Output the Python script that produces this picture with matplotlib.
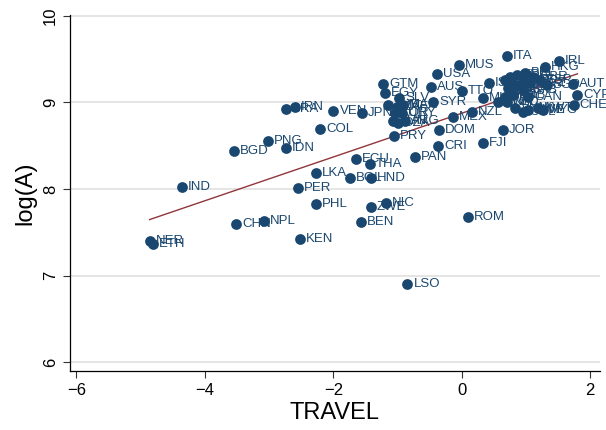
import matplotlib.pyplot as plt
import numpy as np

plt.rcParams['font.family'] = ['Liberation Sans', 'DejaVu Sans']

# country codes, TRAVEL and log(A)
codes = ['ITA', 'IRL', 'HKG', 'MUS', 'USA', 'BEL', 'AUS', 'TTO', 'GTM', 'EGY',
         'SLV', 'SYR', 'AUT', 'CYP', 'CHE', 'MEX', 'NZL', 'DOM', 'JOR', 'CRI',
         'FJI', 'PAN', 'PRY', 'ECU', 'THA', 'BOL', 'HND', 'LKA', 'PER', 'PHL',
         'ZWE', 'NIC', 'BEN', 'ROM', 'KEN', 'LSO', 'NPL', 'CHN', 'NER', 'ETH',
         'IND', 'BGD', 'PNG', 'IDN', 'BRA', 'IRN', 'VEN', 'JPN', 'COL',
         'TUR', 'ZAF', 'MAR', 'KOR', 'URY', 'TUN', 'DZA', 'ARG',
         'ISR', 'GRC', 'ISL', 'NOR', 'DNK', 'PRT', 'MLT', 'BWA', 'FIN', 'NLD',
         'FRA', 'GBR', 'DEU', 'ESP', 'SGP', 'LUX', 'SWZ', 'CAN', 'BRB', 'GAB',
         'SWE', 'VNM', 'MYS', 'CHL', 'KWT']
travel = [0.70, 1.51, 1.29, -0.05, -0.39, 0.98, -0.48, 0.00, -1.23, -1.20,
          -0.98, -0.45, 1.73, 1.80, 1.74, -0.14, 0.16, -0.36, 0.64, -0.37,
          0.33, -0.73, -1.06, -1.65, -1.43, -1.74, -1.42, -2.27, -2.55, -2.27,
          -1.42, -1.18, -1.57, 0.09, -2.52, -0.85, -3.08, -3.52, -4.86, -4.81,
          -4.36, -3.55, -3.02, -2.74, -2.74, -2.60, -2.00, -1.56, -2.21,
          -1.15, -1.01, -0.92, -1.04, -0.93, -1.07, -1.00, -0.89,
          0.42, 0.67, 0.75, 0.82, 0.72, 0.67, 0.33, 0.56, 0.75, 0.70,
          0.86, 1.11, 0.79, 1.21, 1.32, 0.95, 1.06, 1.03, 0.79, 0.95,
          1.03, 0.82, 1.26, 0.95, 1.18]
loga = [9.54, 9.48, 9.41, 9.43, 9.33, 9.34, 9.18, 9.13, 9.21, 9.11,
        9.05, 9.00, 9.21, 9.09, 8.97, 8.83, 8.89, 8.68, 8.68, 8.50,
        8.53, 8.37, 8.61, 8.35, 8.29, 8.13, 8.13, 8.18, 8.01, 7.83,
        7.79, 7.84, 7.62, 7.68, 7.42, 6.90, 7.63, 7.60, 7.40, 7.36,
        8.02, 8.44, 8.55, 8.47, 8.92, 8.95, 8.90, 8.88, 8.69,
        8.97, 8.95, 8.97, 8.88, 8.88, 8.78, 8.76, 8.78,
        9.23, 9.26, 9.29, 9.20, 9.17, 9.06, 9.05, 9.01, 9.09, 9.01,
        9.32, 9.29, 9.20, 9.26, 9.20, 9.24, 9.23, 9.06, 9.09, 9.14,
        8.91, 8.94, 8.91, 8.89, 8.94]

navy = '#1a476f'
fig = plt.figure(figsize=(6.06, 4.30), dpi=100)
ax = fig.add_axes([0.1155, 0.137, 0.8745, 0.828])

ax.scatter(travel, loga, s=60, color=navy, zorder=3, linewidths=0)
for c, x, y in zip(codes, travel, loga):
    ax.annotate(c, (x, y), xytext=(4.5, 0), textcoords='offset points',
                va='center', ha='left', fontsize=9.5, color=navy, zorder=4)

# fitted line
b, a = np.polyfit(travel, loga, 1)
xs = np.array([min(travel), max(travel)])
ax.plot(xs, a + b * xs, color='#90353b', lw=1.0, zorder=2)

ax.set_xlim(-6.1, 2.15)
ax.set_ylim(5.896, 10.01)
ax.set_xticks([-6, -4, -2, 0, 2])
ax.set_yticks([6, 7, 8, 9, 10])
ax.set_yticklabels(['6', '7', '8', '9', '10'], rotation=90, va='center')
ax.tick_params(labelsize=12, length=5, width=0.8, color='#333333')
ax.yaxis.grid(True, color='#e3e3e3', lw=1.3)
ax.set_axisbelow(True)
for s in ['top', 'right']:
    ax.spines[s].set_visible(False)
for s in ['left', 'bottom']:
    ax.spines[s].set_linewidth(0.9)
ax.set_xlabel('TRAVEL', fontsize=17, labelpad=3)
ax.set_ylabel('log(A)', fontsize=17, labelpad=5)

fig.savefig('out.png', dpi=100)
